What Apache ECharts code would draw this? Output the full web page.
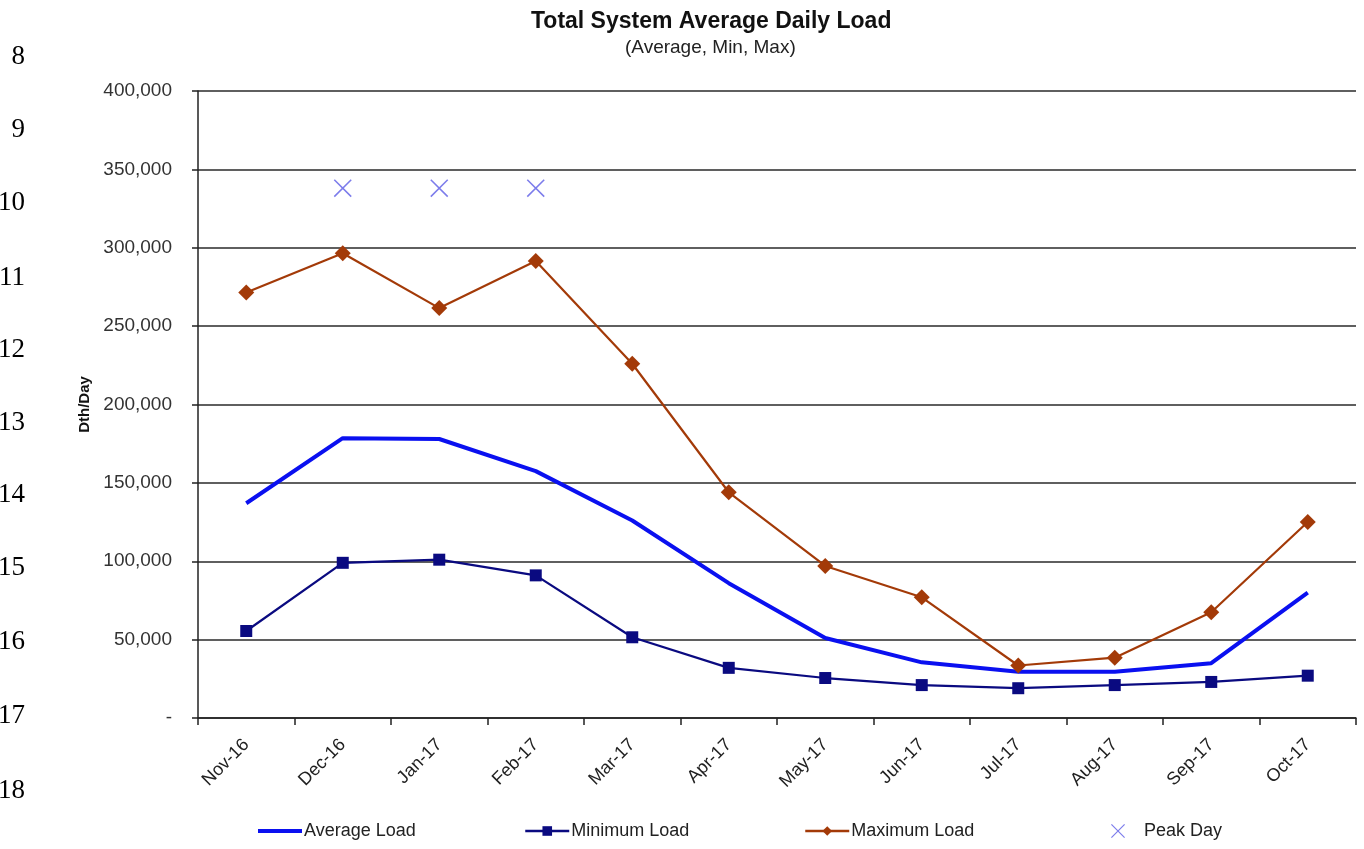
<!DOCTYPE html>
<html>
<head>
<meta charset="utf-8">
<script src="https://cdn.jsdelivr.net/npm/echarts@6/dist/echarts.min.js"></script>
<style>
  html, body { margin: 0; padding: 0; background: #fff; }
  #chart { width: 1364px; height: 849px; }
</style>
</head>
<body>
<div id="chart"></div>
<script>
// months on the x axis
var months = ['Nov-16', 'Dec-16', 'Jan-17', 'Feb-17', 'Mar-17', 'Apr-17',
              'May-17', 'Jun-17', 'Jul-17', 'Aug-17', 'Sep-17', 'Oct-17'];

// Dth/Day
var averageLoad = [137000, 178500, 178000, 157500, 126000, 86000, 51000, 35500, 29500, 29500, 35000, 80000];
var minimumLoad = [55500, 99000, 101000, 91000, 51500, 32000, 25500, 21000, 19000, 21000, 23000, 27000];
var maximumLoad = [271500, 296500, 261500, 291500, 226000, 144000, 97000, 77000, 33500, 38500, 67500, 125000];
var peakDay = [null, 338000, 338000, 338000, null, null, null, null, null, null, null, null];

var yTicks = [0, 50000, 100000, 150000, 200000, 250000, 300000, 350000, 400000];

var seriesNames = ['Average Load', 'Minimum Load', 'Maximum Load', 'Peak Day'];

// document line numbers down the left margin
var lineNumbers = ['8', '9', '10', '11', '12', '13', '14', '15', '16', '17', '18'];
var lineNumberY = [57, 130, 203, 278, 350, 423, 495, 568, 642, 716, 791];

var font = 'Liberation Sans, Arial, sans-serif';
var crossPath = 'path://M0,0.6L0.6,0L10,9.4L9.4,10Z M9.4,0L10,0.6L0.6,10L0,9.4Z';

// one legend block per series so each sits where it does in the picture
var legendLeft = [251, 519, 799, 1106];

var chart = echarts.init(document.getElementById('chart'));

var option = {
    backgroundColor: '#fff',
    animation: false,
    textStyle: { fontFamily: font },
    title: [
        {
            text: 'Total System Average Daily Load',
            left: 526, top: 5,
            textStyle: { fontSize: 23, fontWeight: 'bold', color: '#111', fontFamily: font }
        },
        {
            text: '(Average, Min, Max)',
            left: 620, top: 33,
            textStyle: { fontSize: 19, fontWeight: 'normal', color: '#222', fontFamily: font }
        }
    ],
    graphic: lineNumbers.map(function (t, i) {
        return {
            type: 'text',
            right: 1364 - 25,
            top: lineNumberY[i] - 14,
            style: {
                text: t,
                fill: '#000',
                font: '27px "Liberation Serif", "DejaVu Serif", serif',
                textAlign: 'right'
            }
        };
    }),
    legend: seriesNames.map(function (name, i) {
        return {
            bottom: 4,
            left: legendLeft[i],
            itemWidth: i === 3 ? 14 : 44,
            itemHeight: i === 3 ? 14 : 12,
            lineStyle: { width: i === 0 ? 4 : 2.5 },
            textStyle: { fontSize: 18, color: '#222', padding: i === 3 ? [0, 0, 0, 14] : [0, 0, 0, -3] },
            data: [i === 0 ? { name: name, itemStyle: { opacity: 0 } } : name]
        };
    }),
    grid: { left: 198, right: 8, top: 91, bottom: 131 },
    xAxis: {
        type: 'category',
        data: months,
        boundaryGap: true,
        axisLine: { lineStyle: { color: '#222', width: 1.5 } },
        axisTick: { show: true, length: 7, lineStyle: { color: '#222', width: 1.5 } },
        axisLabel: { rotate: 45, fontSize: 18, color: '#222', margin: 24, interval: 0 },
        splitLine: { show: false }
    },
    yAxis: {
        type: 'value',
        min: 0, max: 400000, interval: 50000,
        name: 'Dth/Day',
        nameLocation: 'middle',
        nameGap: 106,
        nameTextStyle: { fontSize: 15, fontWeight: 'bold', color: '#111' },
        axisLine: { show: true, lineStyle: { color: '#222', width: 1.5 } },
        axisTick: { show: true, length: 6, lineStyle: { color: '#222', width: 1.5 } },
        axisLabel: {
            fontSize: 19, color: '#333', margin: 26,
            formatter: function (v) {
                if (yTicks.indexOf(v) < 0) return '';
                return v === 0 ? '-' : v.toLocaleString('en-US');
            }
        },
        splitLine: { show: true, lineStyle: { color: '#2a2a2a', width: 1.5 } }
    },
    series: [
        {
            name: seriesNames[0],
            type: 'line',
            data: averageLoad,
            symbol: 'none',
            color: '#0a10f0',
            lineStyle: { width: 4, color: '#0a10f0' }
        },
        {
            name: seriesNames[1],
            type: 'line',
            data: minimumLoad,
            symbol: 'rect',
            symbolSize: 12,
            color: '#0a0a80',
            itemStyle: { color: '#0a0a80' },
            lineStyle: { width: 2.2, color: '#0a0a80' }
        },
        {
            name: seriesNames[2],
            type: 'line',
            data: maximumLoad,
            symbol: 'diamond',
            symbolSize: 16,
            color: '#a33a08',
            itemStyle: { color: '#a33a08' },
            lineStyle: { width: 2.2, color: '#a33a08' }
        },
        {
            name: seriesNames[3],
            type: 'scatter',
            data: peakDay,
            symbol: crossPath,
            symbolSize: 18,
            color: '#5b5be6',
            itemStyle: { color: '#5b5be6' }
        }
    ]
};

chart.setOption(option);
</script>
</body>
</html>
